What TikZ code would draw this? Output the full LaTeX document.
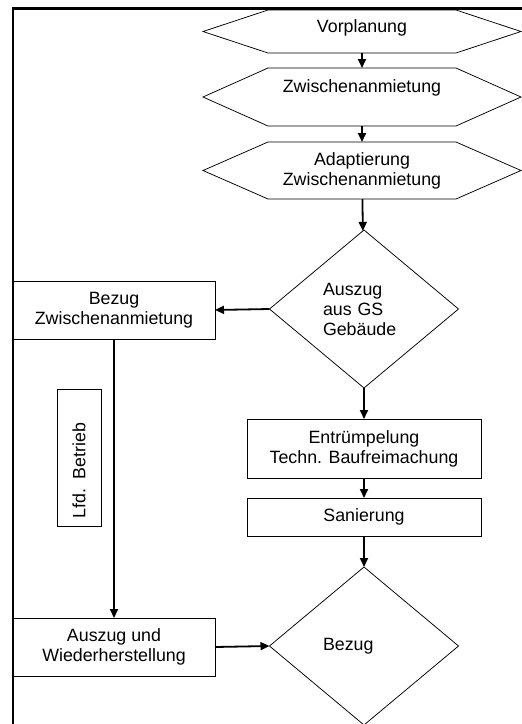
\documentclass[tikz,border=0pt]{standalone}
\usepackage{fontspec}
\setsansfont{Liberation Sans}
\usetikzlibrary{shapes.geometric,arrows.meta}
\tikzset{every picture/.style={/utils/exec={\sffamily}}}
\tikzset{
	shapeline/.style={draw=black,line width=0.75pt},
	label font/.style={font=\fontsize{17.8}{20}\selectfont},
	box/.style={shapeline,rectangle,outer sep=0pt,label font,align=center},
	hexbox/.style={rectangle,outer sep=0pt,minimum width=318pt,label font,align=center},
	decision/.style={shapeline,diamond,inner sep=0pt,outer sep=0pt,minimum width=189pt,minimum height=158pt,text width=82pt,align=left,label font},
	flow/.style={line width=1.8pt,-{Triangle[length=9pt,width=8pt]}},
	frame/.style={line width=2.5pt}
}
\newcommand{\hexframe}[1]{\draw[shapeline] (#1.west) -- ([xshift=65pt]#1.north west) -- ([xshift=-65pt]#1.north east) -- (#1.east) -- ([xshift=-65pt]#1.south east) -- ([xshift=65pt]#1.south west) -- cycle;}

\begin{document}
\begin{tikzpicture}[x=1pt,y=-1pt]
	\useasboundingbox (0,0) rectangle (522,724);
	\draw[frame] (13,724) -- (13,8.5) -- (522,8.5);

	% Sechsecke oben
	\node[hexbox,minimum height=43pt,text depth=10pt] (vor) at (362,31.5) {Vorplanung};
	\hexframe{vor}
	\node[hexbox,minimum height=58pt,text depth=22pt] (zwi) at (362,97) {Zwischenanmietung};
	\hexframe{zwi}
	\node[hexbox,minimum height=57pt] (adapt) at (362,170.5) {Adaptierung\\Zwischenanmietung};
	\hexframe{adapt}

	\node[decision] (ausgs) at (364,309) {Auszug\\aus GS\\Gebäude};

	\node[box,minimum width=202pt,minimum height=58pt] (bezzw) at (114,310) {Bezug\\Zwischenanmietung};
	\node[box,rotate=90,minimum width=137pt,minimum height=44pt,text width=121pt,align=left] (lfd) at (79,457.5) {Lfd. Betrieb};
	\node[box,minimum width=202pt,minimum height=58pt] (auswh) at (114,647) {Auszug und\\Wiederherstellung};

	\node[box,minimum width=234pt,minimum height=59pt] (entr) at (364,448.5) {Entrümpelung\\Techn. Baufreimachung};
	\node[box,minimum width=234pt,minimum height=38pt] (san) at (364,517) {Sanierung};
	\node[decision] (bezug) at (364,646) {Bezug};

	\draw[flow] (vor) -- (zwi);
	\draw[flow] (zwi) -- (adapt);
	\draw[flow] (adapt) -- (ausgs);
	\draw[flow] (ausgs.west) -- (bezzw.east);
	\draw[flow] (bezzw) -- (auswh);
	\draw[flow] (auswh.east) -- (bezug.west);
	\draw[flow] (ausgs) -- (entr);
	\draw[flow] (entr) -- (san);
	\draw[flow] (san) -- (bezug);
\end{tikzpicture}
\end{document}
